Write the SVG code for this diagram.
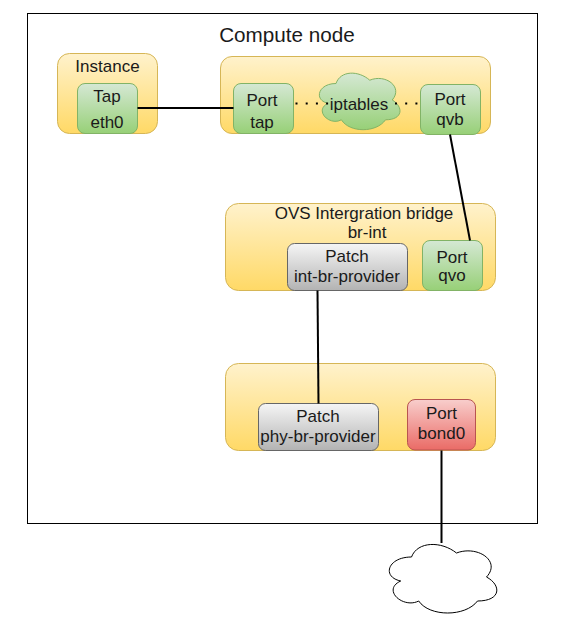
<svg xmlns="http://www.w3.org/2000/svg" width="577" height="638" viewBox="0 0 577 638">
<style>
text{font-family:"Liberation Sans",Arial,sans-serif;font-size:17px;fill:#1a1a1a;text-anchor:middle}
.big{font-size:20.7px}
.y{fill:url(#gy);stroke:#d6b656}
.g{fill:url(#gg);stroke:#82b366}
.s{fill:url(#gs);stroke:#666}
.r{fill:url(#gr);stroke:#b85450}
.c{fill:none;stroke:#000;stroke-width:2}
.d{stroke-dasharray:2 8.2}
</style>
<defs>
<linearGradient id="gy" x1="0" y1="0" x2="0" y2="1"><stop offset="0" stop-color="#fff2cc"/><stop offset="1" stop-color="#ffd966"/></linearGradient>
<linearGradient id="gg" x1="0" y1="0" x2="0" y2="1"><stop offset="0" stop-color="#d5e8d4"/><stop offset="1" stop-color="#97d077"/></linearGradient>
<linearGradient id="gs" x1="0" y1="0" x2="0" y2="1"><stop offset="0" stop-color="#f5f5f5"/><stop offset="1" stop-color="#b3b3b3"/></linearGradient>
<linearGradient id="gr" x1="0" y1="0" x2="0" y2="1"><stop offset="0" stop-color="#f8cecc"/><stop offset="1" stop-color="#ea6b66"/></linearGradient>
</defs>
<rect width="577" height="638" fill="#fff"/>
<g id="compute-node"><rect x="27.5" y="13.5" width="510" height="510" fill="#fff" stroke="#000"/><text class="big" x="287" y="42">Compute node</text></g>
<g id="instance"><rect class="y" x="57.5" y="53.5" width="100" height="80" rx="12"/><text x="107.500" y="72">Instance</text></g>
<g id="linux-bridge"><rect class="y" x="220.500" y="56.500" width="270" height="77" rx="11.500"/></g>
<g id="ovs-int"><rect class="y" x="225.500" y="203.500" width="270" height="87" rx="13"/><text x="364" y="219">OVS Intergration bridge</text><text x="367" y="238">br-int</text></g>
<g id="ovs-phy"><rect class="y" x="225.500" y="363.500" width="270" height="87" rx="13"/></g>
<g id="tap"><rect class="g" x="77.500" y="83.500" width="60" height="50" rx="7.500"/><text x="107" y="102">Tap</text><text x="107" y="128">eth0</text></g>
<g id="port-tap"><rect class="g" x="233.500" y="83.500" width="60" height="50" rx="7.500"/><text x="262" y="106">Port</text><text x="262" y="128">tap</text></g>
<g id="iptables"><path class="g" d="M336 83.500C318 83.500 313.500 100 327.900 103.300C313.500 110.600 329.700 126.400 341.400 119.800C349.500 133 376.500 133 385.500 119.800C403.500 119.800 403.500 106.600 392.250 100C403.500 86.800 385.500 73.600 369.750 80.200C358.500 70.300 340.500 70.300 336 83.500Z"/><text x="359" y="110">iptables</text></g>
<g id="port-qvb"><rect class="g" x="420.500" y="84.500" width="60" height="50" rx="7.500"/><text x="450" y="105">Port</text><text x="450" y="125">qvb</text></g>
<g id="patch-int"><rect class="s" x="287.500" y="243.500" width="120" height="47" rx="7"/><text x="347" y="262">Patch</text><text x="347" y="282">int-br-provider</text></g>
<g id="port-qvo"><rect class="g" x="422.500" y="240.500" width="60" height="50" rx="7.500"/><text x="452" y="263">Port</text><text x="452" y="281">qvo</text></g>
<g id="patch-phy"><rect class="s" x="258.500" y="403.500" width="120" height="47" rx="7"/><text x="318" y="422">Patch</text><text x="318" y="442">phy-br-provider</text></g>
<g id="port-bond0"><rect class="r" x="407.500" y="399.500" width="68" height="50.500" rx="7.500"/><text x="441.500" y="419">Port</text><text x="441.500" y="439">bond0</text></g>
<g id="internet"><path d="M411.500 557C387.500 557 381.500 577 400.700 581C381.500 589.800 403.100 609 418.700 601C429.500 617 465.500 617 477.500 601C501.500 601 501.500 585 486.500 577C501.500 561 477.500 545 456.500 553C441.500 541 417.500 541 411.500 557Z" fill="#fff" stroke="#000"/></g>
<g id="connectors">
<path class="c" d="M137.500 108H233.500"/>
<path class="c d" d="M295.500 103.500H329"/>
<path class="c d" d="M395 103.500H420"/>
<path class="c" d="M450 134.500L470 240.500"/>
<path class="c" d="M317.500 290.500L318.500 403.500"/>
<path class="c" d="M441.500 450.500V543"/>
</g>
</svg>
